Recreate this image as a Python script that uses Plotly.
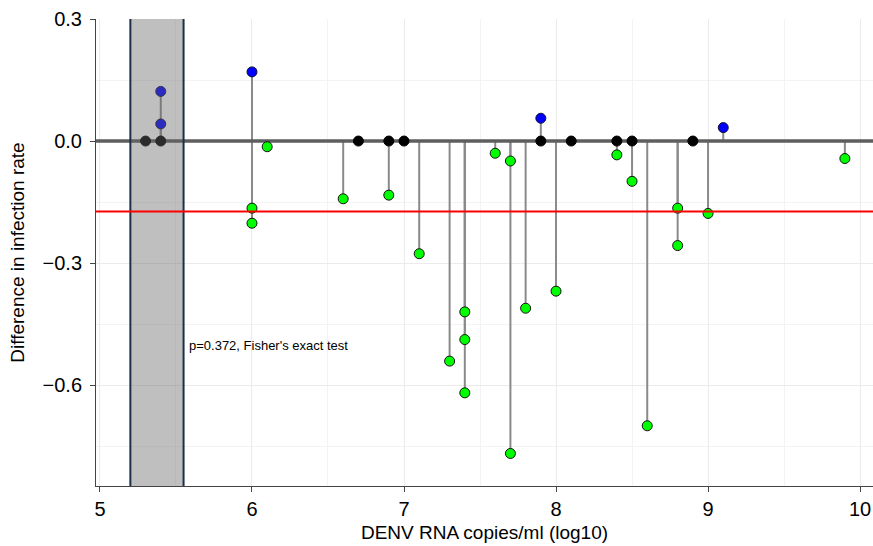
import plotly.graph_objects as go

# ---- data ----
zero_x = [5.3, 5.4, 6.7, 6.9, 7.0, 7.9, 8.1, 8.4, 8.5, 8.9]
zero_y = [0, 0, 0, 0, 0, 0, 0, 0, 0, 0]

pos_x = [5.4, 5.4, 6.0, 7.9, 9.1]
pos_y = [0.122, 0.042, 0.170, 0.056, 0.033]

neg_x = [6.0, 6.0, 6.1, 6.6, 6.9, 7.1, 7.3, 7.4, 7.4, 7.4, 7.6, 7.7, 7.7, 7.8,
         8.0, 8.4, 8.5, 8.6, 8.8, 8.8, 9.0, 9.9]
neg_y = [-0.165, -0.202, -0.014, -0.142, -0.133, -0.277, -0.541, -0.420, -0.488,
         -0.619, -0.030, -0.049, -0.768, -0.411, -0.369, -0.034, -0.099, -0.700,
         -0.165, -0.257, -0.178, -0.043]

mean_diff = -0.173
shade_x = [5.2, 5.55]
annotation_text = "p=0.372, Fisher's exact test"
x_ticks = [5, 6, 7, 8, 9, 10]
y_ticks = [-0.6, -0.3, 0.0, 0.3]
x_range = [4.974, 10.085]
y_range = [-0.848, 0.3]

FONT = "Liberation Sans, Arial, Helvetica, sans-serif"

# segments from 0 to each non-zero point
seg_x, seg_y = [], []
for xs, ys in ((pos_x, pos_y), (neg_x, neg_y)):
    for xv, yv in zip(xs, ys):
        seg_x += [xv, xv, None]
        seg_y += [0, yv, None]

fig = go.Figure()
fig.add_trace(go.Scatter(x=seg_x, y=seg_y, mode="lines",
                         line=dict(color="#8a8a8a", width=2),
                         hoverinfo="skip", showlegend=False))
# zero line
fig.add_trace(go.Scatter(x=x_range, y=[0, 0], mode="lines",
                         line=dict(color="#5e5e5e", width=3.5),
                         hoverinfo="skip", showlegend=False))
fig.add_trace(go.Scatter(x=zero_x, y=zero_y, mode="markers",
                         marker=dict(size=10, color="#000000",
                                     line=dict(color="#000000", width=1)),
                         showlegend=False))
fig.add_trace(go.Scatter(x=neg_x, y=neg_y, mode="markers",
                         marker=dict(size=10, color="#00ff00",
                                     line=dict(color="#111111", width=1)),
                         showlegend=False))
fig.add_trace(go.Scatter(x=pos_x, y=pos_y, mode="markers",
                         marker=dict(size=10, color="#0000ff",
                                     line=dict(color="#111133", width=1)),
                         showlegend=False))

# shaded region on top (semi-transparent)
fig.add_shape(type="rect", xref="x", x0=shade_x[0], x1=shade_x[1],
              yref="paper", y0=0, y1=1,
              fillcolor="rgba(103,103,103,0.42)", line=dict(width=0), layer="above")
for xv in shade_x:
    fig.add_shape(type="line", xref="x", x0=xv, x1=xv, yref="paper", y0=0, y1=1,
                  line=dict(color="#1c2f48", width=2), layer="above")
# mean line
fig.add_shape(type="line", xref="paper", x0=0, x1=1, yref="y",
              y0=mean_diff, y1=mean_diff,
              line=dict(color="#ff0000", width=2), layer="above")

fig.add_annotation(x=shade_x[1] + 0.022, y=-0.502, text=annotation_text,
                   showarrow=False, xanchor="left", yanchor="middle",
                   font=dict(family=FONT, size=13, color="#000000"))

fig.update_xaxes(range=x_range, tickvals=x_ticks,
                 ticktext=[str(t) for t in x_ticks],
                 automargin=False, ticklabeloverflow="allow",
                 showgrid=True, gridcolor="#ebebeb", gridwidth=1,
                 minor=dict(dtick=0.5, showgrid=True, gridcolor="#f3f3f3", gridwidth=1),
                 showline=True, linecolor="#444444", linewidth=1,
                 ticks="outside", ticklen=5, tickcolor="#444444",
                 zeroline=False,
                 tickfont=dict(family=FONT, size=20, color="#000000"),
                 title=dict(text="DENV RNA copies/ml (log10)",
                            font=dict(family=FONT, size=19, color="#000000"),
                            standoff=6))
fig.update_yaxes(range=y_range, tickvals=y_ticks, tickformat=".1f",
                 automargin=False, ticklabelstandoff=4,
                 showgrid=True, gridcolor="#ebebeb", gridwidth=1,
                 minor=dict(dtick=0.15, tick0=0, showgrid=True, gridcolor="#f3f3f3", gridwidth=1),
                 showline=True, linecolor="#444444", linewidth=1,
                 ticks="outside", ticklen=5, tickcolor="#444444",
                 zeroline=False,
                 tickfont=dict(family=FONT, size=20, color="#000000"),
                 title=dict(text="Difference in infection rate",
                            font=dict(family=FONT, size=19, color="#000000"),
                            standoff=12))

fig.update_layout(width=873, height=546,
                  margin=dict(l=96, r=0, t=19, b=60, autoexpand=False),
                  plot_bgcolor="#ffffff", paper_bgcolor="#ffffff",
                  font=dict(family=FONT))

# remove the browser's default 8px body margin so the figure fills the window
fig.write_html("out.html",
               config={"displayModeBar": False},
               post_script="document.body.style.margin='0';"
                           "document.body.style.overflow='hidden';")
